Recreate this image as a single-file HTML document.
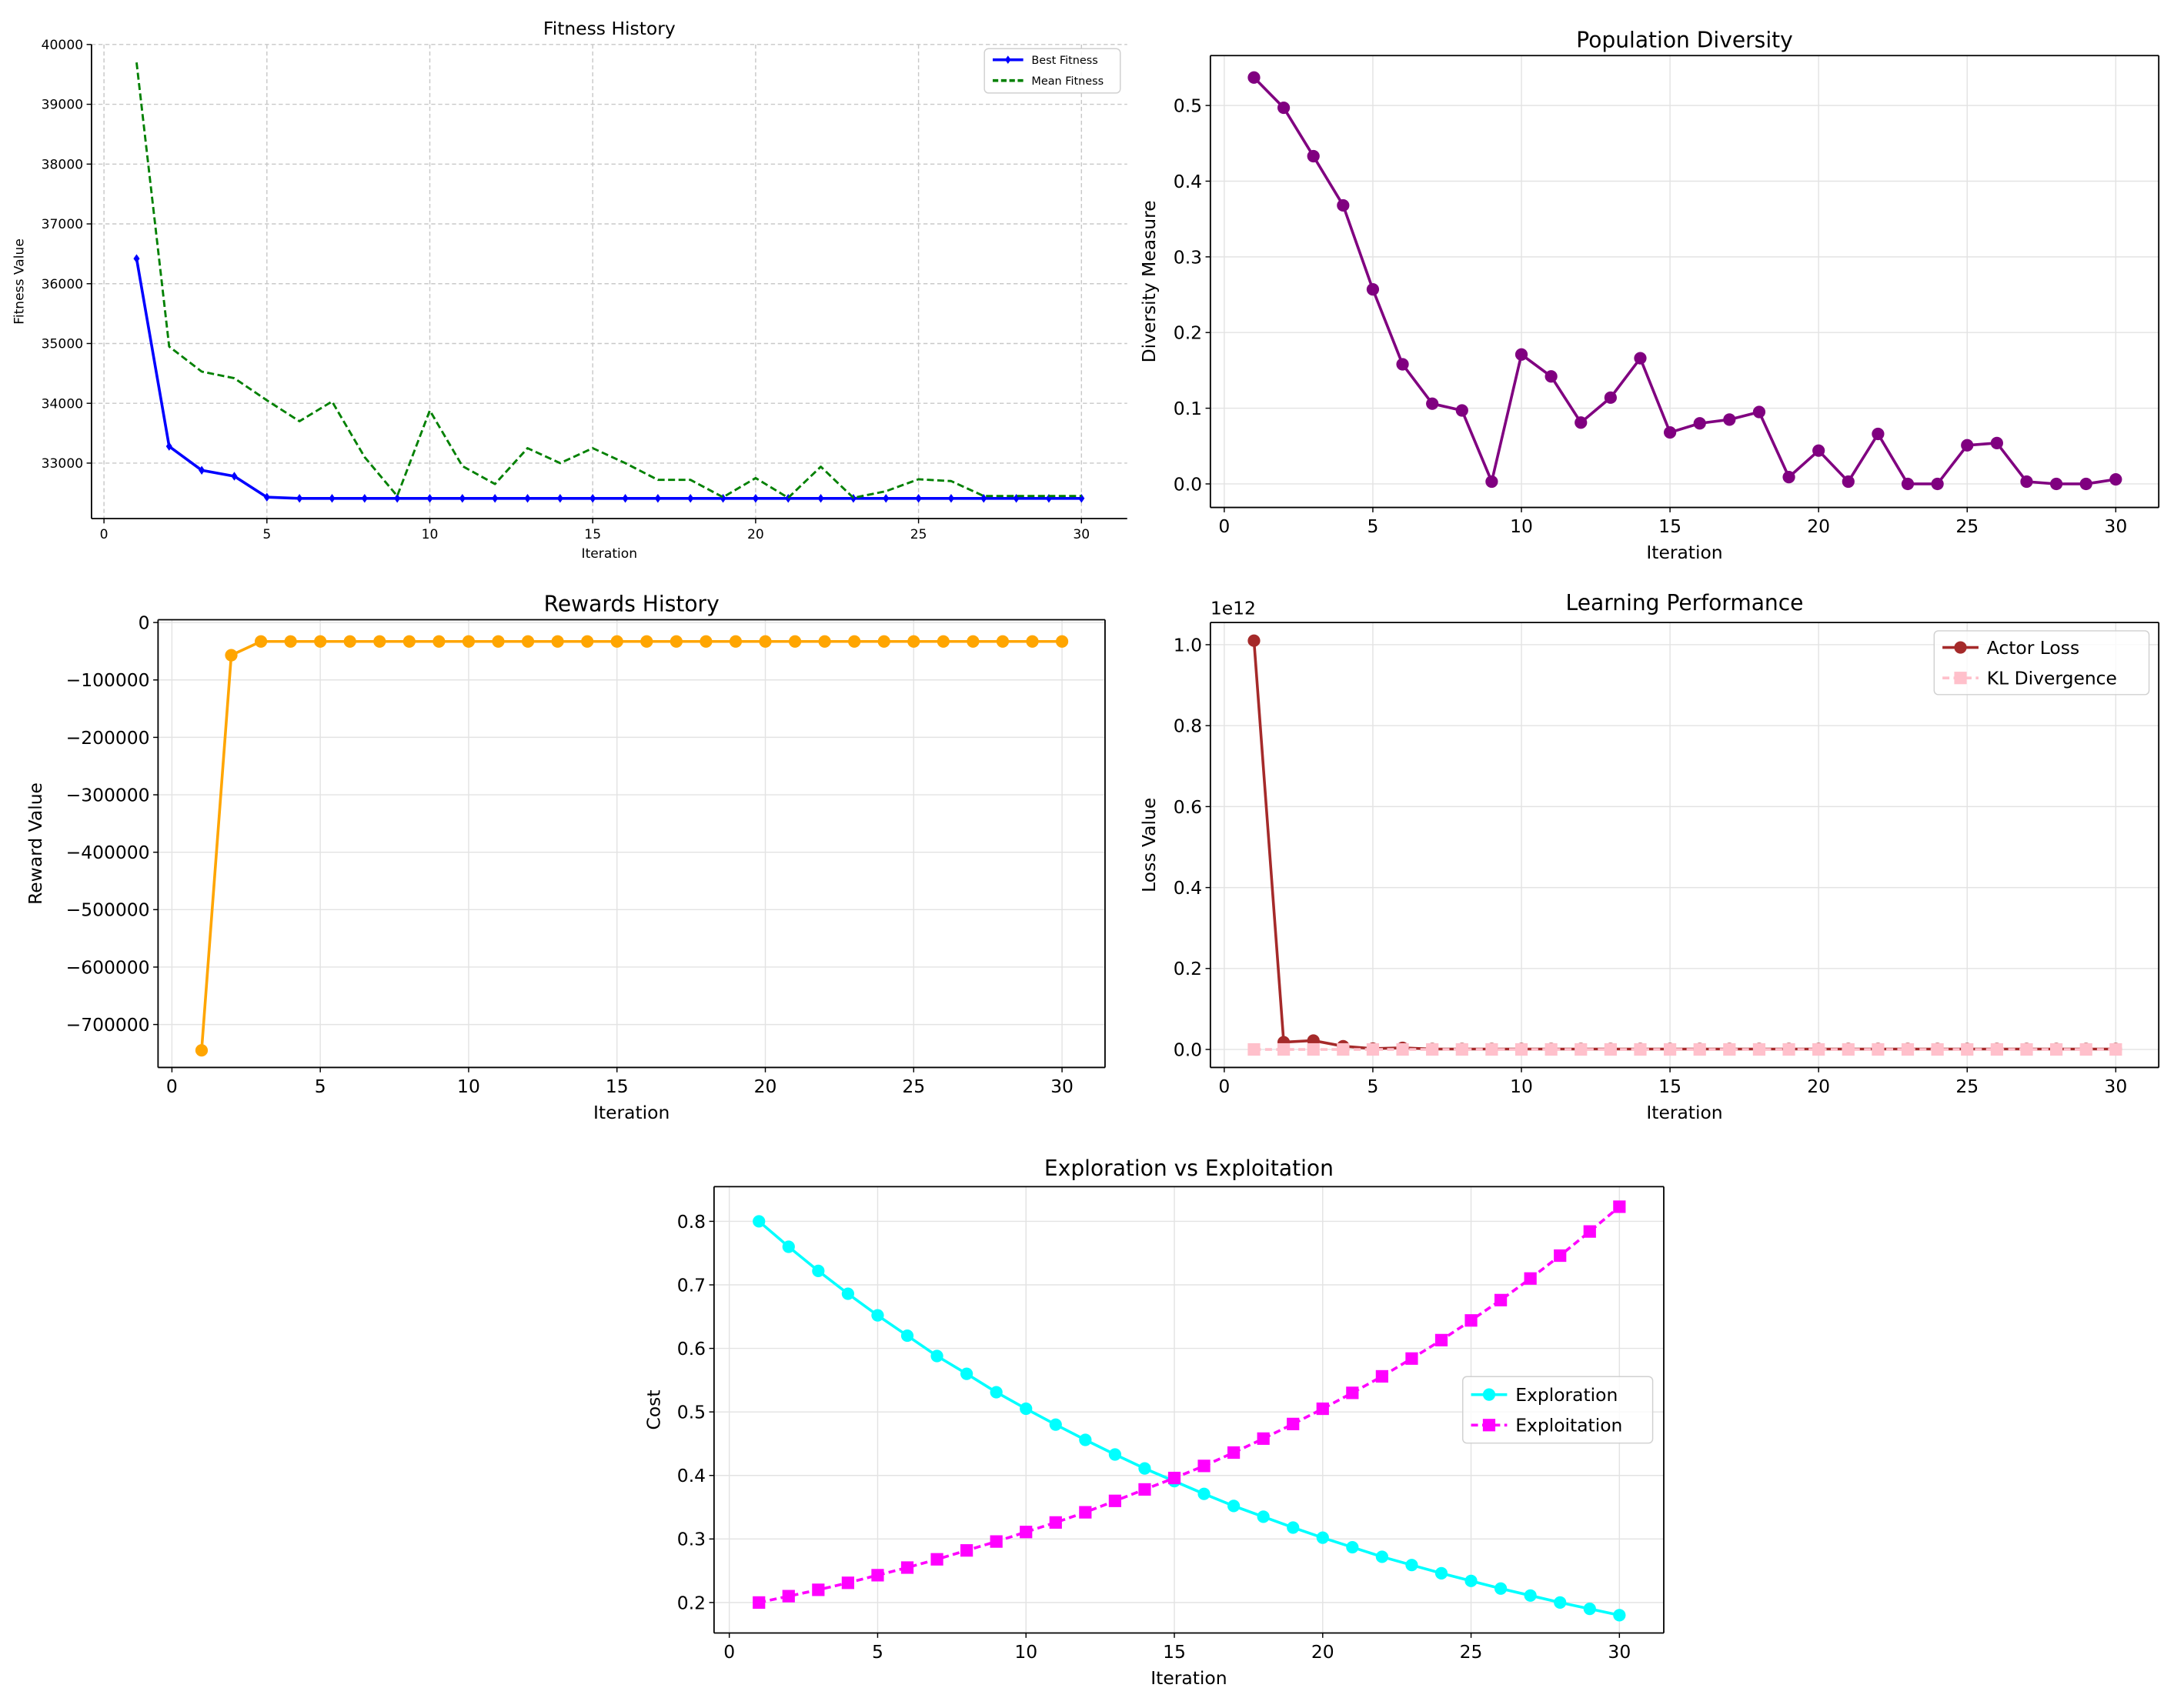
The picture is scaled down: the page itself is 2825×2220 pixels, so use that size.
<!DOCTYPE html>
<html><head><meta charset="utf-8"><style>
html,body{margin:0;padding:0;background:#fff}
svg{display:block;font-family:"DejaVu Sans","Liberation Sans",sans-serif}
</style></head><body>
<svg id="fig" width="2825" height="2220" viewBox="0 0 1568 1232" xmlns="http://www.w3.org/2000/svg"></svg>
<script>
const iterations = Array.from({length:30},(_,i)=>i+1);
const bestFitness = [36420,33280,32880,32780,32430,32410,32410,32410,32410,32410,32410,32410,32410,32410,32410,32410,32410,32410,32410,32410,32410,32410,32410,32410,32410,32410,32410,32410,32410,32410];
const meanFitness = [39700,34950,34530,34420,34050,33700,34030,33100,32450,33880,32950,32650,33250,33000,33250,33000,32720,32720,32430,32750,32420,32940,32420,32530,32730,32700,32450,32450,32450,32450];
const diversity = [0.537,0.497,0.433,0.368,0.257,0.158,0.106,0.097,0.003,0.171,0.142,0.081,0.114,0.166,0.068,0.080,0.085,0.095,0.009,0.044,0.003,0.066,0.0,0.0,0.051,0.054,0.003,0.0,0.0,0.006];
const rewards = [-745000,-57000,-33000,-33000,-33000,-33000,-33000,-33000,-33000,-33000,-33000,-33000,-33000,-33000,-33000,-33000,-33000,-33000,-33000,-33000,-33000,-33000,-33000,-33000,-33000,-33000,-33000,-33000,-33000,-33000];
const actorLoss = [1.01,0.018,0.022,0.008,0.002,0.004,0.001,0.001,0.001,0.001,0.001,0.001,0.001,0.001,0.001,0.001,0.001,0.001,0.001,0.001,0.001,0.001,0.001,0.001,0.001,0.001,0.001,0.001,0.001,0.001];
const klDiv = Array(30).fill(0);
const exploration = [0.8,0.76,0.722,0.686,0.652,0.62,0.588,0.56,0.531,0.505,0.48,0.456,0.433,0.411,0.391,0.371,0.352,0.335,0.318,0.302,0.287,0.272,0.259,0.246,0.234,0.222,0.211,0.2,0.19,0.18];
const exploitation = [0.2,0.21,0.22,0.231,0.243,0.255,0.268,0.282,0.296,0.311,0.326,0.342,0.36,0.378,0.396,0.415,0.436,0.458,0.481,0.505,0.53,0.556,0.584,0.613,0.644,0.676,0.71,0.746,0.784,0.823];
const xTicks = [0,5,10,15,20,25,30];
const fitTicks = [33000,34000,35000,36000,37000,38000,39000,40000];
const divTicks = [0,0.1,0.2,0.3,0.4,0.5];
const divLabels = ["0.0","0.1","0.2","0.3","0.4","0.5"];
const rewTicks = [0,-100000,-200000,-300000,-400000,-500000,-600000,-700000];
const lossTicks = [0,0.2,0.4,0.6,0.8,1.0];
const lossLabels = ["0.0","0.2","0.4","0.6","0.8","1.0"];
const costTicks = [0.2,0.3,0.4,0.5,0.6,0.7,0.8];
const costLabels = ["0.2","0.3","0.4","0.5","0.6","0.7","0.8"];

const NS="http://www.w3.org/2000/svg";
const fig=document.getElementById('fig');
function el(tag,attrs,parent,text){const e=document.createElementNS(NS,tag);for(const k in attrs)e.setAttribute(k,attrs[k]);if(text!==undefined)e.textContent=text;(parent||fig).appendChild(e);return e;}
function mk(x,y,shape,color,r,g){
  let m;
  if(shape==='o'){m=el('circle',{cx:x,cy:y,r:r,fill:color},g);}
  else if(shape==='d'){m=el('polygon',{points:`${x},${y-r} ${x+r*0.7},${y} ${x},${y+r} ${x-r*0.7},${y}`,fill:color},g);}
  else {m=el('rect',{x:x-r,y:y-r,width:2*r,height:2*r,fill:color},g);}
  
  
  return m;
}
function panel(o){
  const g=el('g',{},fig);
  
  
  const X=v=>o.x0+(v-o.xmin)/(o.xmax-o.xmin)*(o.x1-o.x0);
  const Y=v=>o.yb+(v-o.ymin)/(o.ymax-o.ymin)*(o.yt-o.yb);
  const fs=o.fs||13;
  o.xt.forEach(t=>{const l=el('line',{x1:X(t),x2:X(t),y1:o.top,y2:o.bottom,stroke:o.gridColor||'#e3e3e3','stroke-width':0.8,'stroke-dasharray':o.gridDash||''},g);});
  o.yt2.forEach(t=>{const l=el('line',{x1:o.left,x2:o.right,y1:Y(t),y2:Y(t),stroke:o.gridColor||'#e3e3e3','stroke-width':0.8,'stroke-dasharray':o.gridDash||''},g);});
  o.series.forEach(s=>{
    const sg=el('g',{},g);
    
    
    const pts=s.y.map((v,i)=>X(s.x[i])+','+Y(v)).join(' ');
    el('polyline',{points:pts,fill:'none',stroke:s.color,'stroke-width':s.lw||2,'stroke-dasharray':s.dash||'','stroke-linejoin':'round'},sg);
    if(s.marker) s.y.forEach((v,i)=>mk(X(s.x[i]),Y(v),s.marker,s.mcolor||s.color,s.ms||4.5,sg));
  });
  const ax=el('g',{},g);
  
  
  el('line',{x1:o.left,x2:o.left,y1:o.top,y2:o.bottom,stroke:'#000','stroke-width':1},ax);
  el('line',{x1:o.left,x2:o.right,y1:o.bottom,y2:o.bottom,stroke:'#000','stroke-width':1},ax);
  if(!o.open){
    el('line',{x1:o.left,x2:o.right,y1:o.top,y2:o.top,stroke:'#000','stroke-width':1},ax);
    el('line',{x1:o.right,x2:o.right,y1:o.top,y2:o.bottom,stroke:'#000','stroke-width':1},ax);
  }
  o.xt.forEach(t=>{
    el('line',{x1:X(t),x2:X(t),y1:o.bottom,y2:o.bottom+3.5,stroke:'#000','stroke-width':0.8},g);
    const tx=el('text',{x:X(t),y:o.bottom+5+fs,'font-size':fs,'text-anchor':'middle',fill:'#000'},g,String(t));
    
  });
  o.yt2.forEach((t,i)=>{
    el('line',{x1:o.left-3.5,x2:o.left,y1:Y(t),y2:Y(t),stroke:'#000','stroke-width':0.8},g);
    const tx=el('text',{x:o.left-6,y:Y(t)+fs*0.36,'font-size':fs,'text-anchor':'end',fill:'#000'},g,o.yl?o.yl[i]:String(t));
    
  });
  const ti=el('text',{x:(o.left+o.right)/2,y:o.top-(o.tgap||6),'font-size':o.tfs||fs*1.2,'text-anchor':'middle'},g,o.title);
  
  const xl=el('text',{x:(o.left+o.right)/2,y:o.bottom+fs*2.45+5,'font-size':fs,'text-anchor':'middle'},g,'Iteration');
  
  const yl=el('text',{x:0,y:0,'font-size':fs,'text-anchor':'middle',transform:`translate(${o.ylx},${(o.top+o.bottom)/2}) rotate(-90)`},g,o.ylabel);
  
  if(o.offset){const t=el('text',{x:o.left,y:o.top-6,'font-size':fs},g,o.offset);}
  if(o.legend){
    const L=o.legend;
    const lg=el('g',{},g);
    
    
    el('rect',{x:L.x,y:L.y,width:L.w,height:L.h,rx:3,fill:'#fff','fill-opacity':0.8,stroke:'#d0d0d0','stroke-width':0.8},lg);
    L.items.forEach((it,i)=>{
      const yy=L.y+L.pad+i*L.step;
      const eg=el('g',{},lg);
      
      
      el('line',{x1:L.x+6,x2:L.x+6+L.len,y1:yy,y2:yy,stroke:it.color,'stroke-width':it.lw||2,'stroke-dasharray':it.dash||''},eg);
      if(it.marker) mk(L.x+6+L.len/2,yy,it.marker,it.color,it.ms||4.5,eg);
      el('text',{x:L.x+12+L.len,y:yy+L.fs*0.36,'font-size':L.fs},eg,it.label);
    });
  }
}

panel({name:'fitness-history-chart',title:'Fitness History',ylabel:'Fitness Value',fs:9.5,tfs:13,tgap:7,open:true,
  left:66,right:813,top:32,bottom:374,x0:75,x1:780,xmin:0,xmax:30,yb:334,yt:32,ymin:33000,ymax:40000,
  xt:xTicks,yt2:fitTicks,ylx:17,gridColor:'#c8c8c8',gridDash:'3,2',
  series:[{name:'best-fitness-line',x:iterations,y:bestFitness,color:'#0000ff',marker:'d',ms:3.2,lw:2},
          {name:'mean-fitness-line',x:iterations,y:meanFitness,color:'#008000',dash:'5,2.5',lw:1.6}],
  legend:{x:710,y:35,w:98,h:32,pad:8,step:15,len:22,fs:8,items:[{label:'Best Fitness',color:'#0000ff',marker:'d',ms:3},{label:'Mean Fitness',color:'#008000',dash:'4,2'}]}});

panel({name:'population-diversity-chart',title:'Population Diversity',ylabel:'Diversity Measure',
  left:873,right:1557,top:40,bottom:366,x0:883,x1:1526,xmin:0,xmax:30,yb:349,yt:76,ymin:0,ymax:0.5,
  xt:xTicks,yt2:divTicks,yl:divLabels,ylx:833,
  series:[{name:'diversity-line',x:iterations,y:diversity,color:'#800080',marker:'o'}]});

panel({name:'rewards-history-chart',title:'Rewards History',ylabel:'Reward Value',
  left:114,right:797,top:447,bottom:770,x0:124,x1:766,xmin:0,xmax:30,yb:449,yt:739,ymin:0,ymax:-700000,
  xt:xTicks,yt2:rewTicks,yl:rewTicks.map(v=>v===0?'0':'\u2212'+Math.abs(v)),ylx:30,
  series:[{name:'rewards-line',x:iterations,y:rewards,color:'#ffa500',marker:'o'}]});

panel({name:'learning-performance-chart',title:'Learning Performance',ylabel:'Loss Value',offset:'1e12',
  left:873,right:1557,top:449,bottom:770,x0:883,x1:1526,xmin:0,xmax:30,yb:757,yt:465,ymin:0,ymax:1.0,
  xt:xTicks,yt2:lossTicks,yl:lossLabels,ylx:833,tgap:9,
  series:[{name:'actor-loss-line',x:iterations,y:actorLoss,color:'#a52a2a',marker:'o'},
          {name:'kl-divergence-line',x:iterations,y:klDiv,color:'#ffc0cb',marker:'s',dash:'5,3'}],
  legend:{x:1395,y:455,w:155,h:46,pad:12,step:22,len:26,fs:13,items:[{label:'Actor Loss',color:'#a52a2a',marker:'o'},{label:'KL Divergence',color:'#ffc0cb',marker:'s',dash:'5,3'}]}});

panel({name:'exploration-exploitation-chart',title:'Exploration vs Exploitation',ylabel:'Cost',
  left:515,right:1200,top:856,bottom:1178,x0:526,x1:1168,xmin:0,xmax:30,yb:1156,yt:881,ymin:0.2,ymax:0.8,
  xt:xTicks,yt2:costTicks,yl:costLabels,ylx:476,tgap:8,
  series:[{name:'exploration-line',x:iterations,y:exploration,color:'#00ffff',marker:'o'},
          {name:'exploitation-line',x:iterations,y:exploitation,color:'#ff00ff',marker:'s',dash:'5,3'}],
  legend:{x:1055,y:993,w:137,h:48,pad:13,step:22,len:26,fs:13,items:[{label:'Exploration',color:'#00ffff',marker:'o'},{label:'Exploitation',color:'#ff00ff',marker:'s',dash:'5,3'}]}});
</script>
</body></html>
